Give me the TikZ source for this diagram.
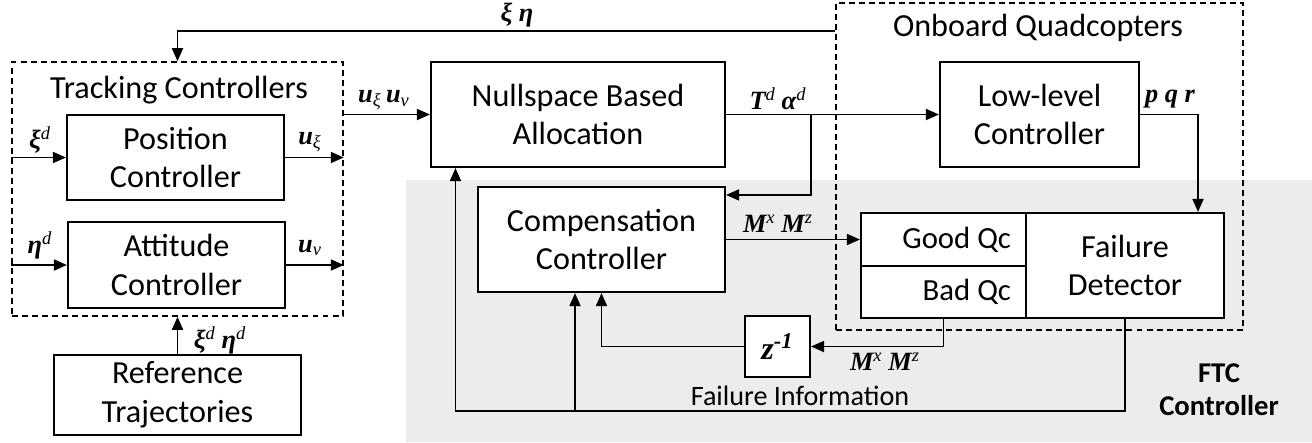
\documentclass[tikz,border=0pt]{standalone}
\usepackage{fontspec}
\setmainfont{Carlito}
\newfontfamily\symfont{Liberation Serif}
\usetikzlibrary{arrows.meta}
\newcommand{\sv}[1]{{\symfont\bfseries\itshape #1}}
\newcommand{\supv}[1]{\textsuperscript{\symfont\mdseries\itshape #1}}
\newcommand{\subv}[1]{\textsubscript{\symfont\mdseries\itshape #1}}

\begin{document}
\begin{tikzpicture}[
    x=0.2mm, y=-0.2mm,
    blk/.style={
        draw,
        fill=white,
        line width=1.2pt,
        inner sep=0pt,
        align=center,
        font=\fontsize{18.3}{22}\selectfont
    },
    grp/.style={
        draw,
        line width=0.9pt,
        dash pattern=on 3.4pt off 2.3pt,
        inner sep=0pt
    },
    lbl/.style={
        font=\fontsize{18.3}{22}\selectfont
    },
    sig/.style={
        font=\fontsize{15}{17}\selectfont,
        inner sep=1pt
    },
    arr/.style={
        -{Triangle[length=0.26cm,width=0.22cm]},
        line width=1pt
    }
]
\useasboundingbox (0,0) rectangle (1312,442);

%--- FTC part (grey background) ---
\fill[gray!15] (406,180) rectangle (1312,442);

%--- Group frames ---
\node[grp, minimum width=6.62cm, minimum height=5.08cm]
    (track) at (177.5,189) {};
\node[grp, minimum width=8.14cm, minimum height=6.54cm]
    (onboard) at (1039.5,166.5) {};
\node[lbl] (ltrack) at (179,90) {Tracking Controllers};
\node[lbl] (lonboard) at (1038,28) {Onboard Quadcopters};

%--- Blocks ---
\node[blk, minimum width=4.34cm, minimum height=1.7cm]
    (pos) at (175.5,157.5) {Position\\Controller};
\node[blk, minimum width=4.34cm, minimum height=1.72cm]
    (att) at (176.5,265) {Attitude\\Controller};
\node[blk, minimum width=4.94cm, minimum height=1.6cm]
    (ref) at (177.5,395) {Reference\\Trajectories};
\node[blk, minimum width=5.88cm, minimum height=2.1cm]
    (null) at (578,114.5) {Nullspace Based\\Allocation};
\node[blk, minimum width=4.94cm, minimum height=2.1cm]
    (comp) at (601.5,239.5) {Compensation\\Controller};
\node[blk, minimum width=1.3cm, minimum height=1.22cm]
    (zinv) at (777.5,346.5) {\sv{z}\textsuperscript{\sv{-1}}};
\node[blk, minimum width=3.98cm, minimum height=2.1cm]
    (low) at (1039.5,114.5) {Low-level\\Controller};
\node[blk, minimum width=3.3cm, minimum height=1.06cm,
      font=\fontsize{17.5}{21}\selectfont,
      text width=2.7cm, align=flush right]
    (good) at (943.5,239.5) {Good Qc};
\node[blk, minimum width=3.3cm, minimum height=1.04cm,
      font=\fontsize{17.5}{21}\selectfont,
      text width=2.7cm, align=flush right]
    (bad) at (943.5,292) {Bad Qc};
\node[blk, minimum width=3.96cm, minimum height=2.1cm]
    (fail) at (1125,265.5) {Failure\\Detector};

%--- Feedback of states ---
\coordinate (fb) at (onboard.west |- 0,31);
\draw[arr] (fb) -| (track.north);
\node[sig] (lxieta) at (517,15) {\sv{ξ η}};

%--- Tracking controllers ---
\draw[arr] (track.west |- pos.west) -- (pos.west);
\draw[arr] (track.west |- att.west) -- (att.west);
\draw[arr] (pos.east) -- (track.east |- pos.east);
\draw[arr] (att.east) -- (track.east |- att.east);
\draw[arr] (ref.north) -- (track.south);
\node[sig] (lxid) at (40,140) {\sv{ξ}\supv{d}};
\node[sig] (letad) at (40,245) {\sv{η}\supv{d}};
\node[sig] (luxi) at (310,142) {\sv{u}\subv{ξ}};
\node[sig] (luv) at (310,248) {\sv{u}\subv{v}};
\node[sig] (lref) at (220,340) {\sv{ξ}\supv{d} \sv{η}\supv{d}};

%--- Allocation ---
\draw[arr] (track.east |- null.west) -- (null.west);
\node[sig] (lu) at (384,100) {\sv{u}\subv{ξ}\,\sv{u}\subv{v}};
\draw[arr] (null.east) -- (low.west);
\coordinate (br) at (811,114.5);
\draw[arr] (br) |- ([yshift=-0.18cm]comp.north east);
\node[sig] (lta) at (778,99) {\sv{T}\supv{d} \sv{α}\supv{d}};

%--- Failure detection ---
\draw[arr] (comp.east) -- (good.west);
\node[sig] (lm1) at (778,224) {\sv{M}\supv{x} \sv{M}\supv{z}};
\draw[arr] (low.east) -| ([xshift=1.46cm]fail.north);
\node[sig] (lpqr) at (1170,99) {\sv{p q r}};
\draw[arr] (bad.south) |- (zinv.east);
\node[sig] (lm2) at (885,362) {\sv{M}\supv{x} \sv{M}\supv{z}};
\draw[arr] (zinv.west) -| (comp.south);

%--- Failure information ---
\coordinate (loop) at (455.5,411);
\coordinate (tap) at (575,411);
\draw[arr] (fail.south) |- (loop) -- (loop |- null.south);
\draw[arr] (tap) -- (tap |- comp.south);
\node[lbl, font=\fontsize{16}{19}\selectfont] (lfi) at (800,396) {Failure Information};
\node[lbl, font=\fontsize{16.3}{19}\selectfont\bfseries, align=center]
    (lftc) at (1219,390) {FTC\\Controller};

\end{tikzpicture}
\end{document}
